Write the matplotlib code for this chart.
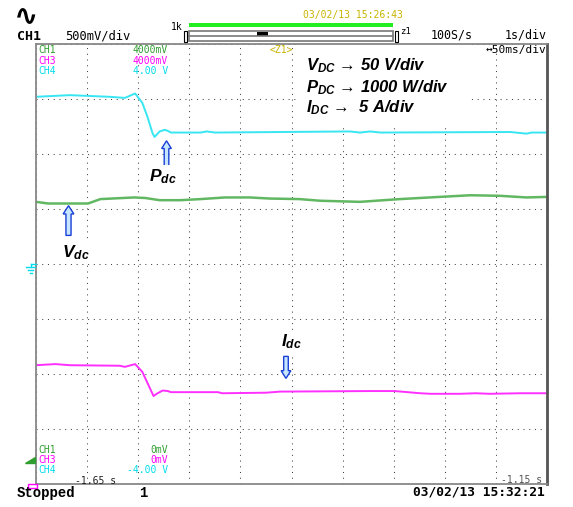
import numpy as np
import matplotlib
matplotlib.use("Agg")
import matplotlib.pyplot as plt
from matplotlib.patches import FancyArrow, Rectangle, Polygon
from matplotlib.lines import Line2D

plt.rcParams['mathtext.fontset'] = 'custom'
plt.rcParams['mathtext.it'] = 'Liberation Sans:italic:bold'
plt.rcParams['mathtext.rm'] = 'Liberation Sans:italic:bold'
plt.rcParams['mathtext.bf'] = 'Liberation Sans:italic:bold'

# screen: 10 div x 50 ms, 8 div vertical
t_p = [0, 33, 72, 87, 97, 104, 109, 114, 116, 121, 126, 129, 132, 161, 167, 175,
       307, 317, 327, 337, 464, 480, 485, 500]
p_dc = [7.04, 7.07, 7.04, 7.02, 7.10, 6.93, 6.68, 6.38, 6.31, 6.41, 6.44, 6.42, 6.39,
        6.39, 6.41, 6.39, 6.41, 6.39, 6.41, 6.39, 6.40, 6.37, 6.39, 6.39]

t_v = [0, 12, 51, 63, 96, 107, 121, 141, 161, 185, 209, 229, 258, 278, 317, 356,
       395, 425, 454, 480, 500]
v_dc = [5.13, 5.10, 5.10, 5.18, 5.21, 5.20, 5.16, 5.16, 5.18, 5.21, 5.21, 5.19, 5.18,
        5.15, 5.13, 5.18, 5.22, 5.25, 5.24, 5.21, 5.22]

t_i = [0, 19, 33, 82, 87, 97, 104, 110, 115, 119, 124, 129, 132, 178, 182, 225, 239,
       327, 351, 376, 386, 415, 430, 444, 474, 500]
i_dc = [2.16, 2.18, 2.16, 2.15, 2.13, 2.18, 2.04, 1.80, 1.60, 1.65, 1.70, 1.69, 1.67,
        1.67, 1.65, 1.66, 1.68, 1.69, 1.69, 1.65, 1.64, 1.64, 1.65, 1.64, 1.65, 1.65]

W, H = 573, 507
fig = plt.figure(figsize=(W / 100, H / 100), dpi=100)
ax = fig.add_axes([36 / W, (H - 484) / H, 511 / W, 440 / H])


def fx(px):
    return px / W


def fy(py):
    return 1 - py / H


mono = 'DejaVu Sans Mono'

ax.set_xlim(0, 500)
ax.set_ylim(0, 8)
ax.set_xticks(np.arange(0, 501, 50))
ax.set_yticks(np.arange(0, 9, 1))
ax.tick_params(length=0, labelbottom=False, labelleft=False)
ax.grid(True, color='#444444', linestyle=(0, (1, 4.5)), linewidth=0.75)
ax.set_axisbelow(True)
for s in ['left', 'top', 'bottom']:
    ax.spines[s].set_color('#888888')
    ax.spines[s].set_linewidth(1.3)
ax.spines['right'].set_color('#555555')
ax.spines['right'].set_linewidth(2)

# white area behind the scale notes
ax.add_patch(Rectangle((254, 6.55), 172, 1.45, facecolor='white', edgecolor='none', zorder=1))

ax.plot(t_p, p_dc, color='#38e6f2', lw=1.4, zorder=2)
ax.plot(t_v, v_dc, color='#62b862', lw=1.8, zorder=2)
ax.plot(t_i, i_dc, color='#ff30ff', lw=1.4, zorder=2)

# scale notes
note_kw = dict(fontfamily='Liberation Sans', fontweight='bold', style='italic',
               fontsize=12, color='black', zorder=4)
ax.text(264, 7.53, r'$V_{DC}$ → 50 V/div', **note_kw)
ax.text(264, 7.13, r'$P_{DC}$ → 1000 W/div', **note_kw)
ax.text(264, 6.75, r'$I_{DC}$ →  5 A/div', **note_kw)

# arrows and trace labels
arr_kw = dict(length_includes_head=True, facecolor='#c6e6ff', edgecolor='#1a3fd6',
              linewidth=1.0, zorder=4)
ax.add_patch(FancyArrow(127.7, 5.78, 0, 0.46, width=4.5, head_width=9.5, head_length=0.14, **arr_kw))
ax.add_patch(FancyArrow(31.8, 4.52, 0, 0.54, width=5.0, head_width=10.5, head_length=0.15, **arr_kw))
ax.add_patch(FancyArrow(244.6, 2.32, 0, -0.40, width=4.5, head_width=9.5, head_length=0.14, **arr_kw))

lab_kw = dict(fontfamily='Liberation Sans', fontweight='bold', style='italic',
              fontsize=12.5, color='black', zorder=4,
              bbox=dict(facecolor='white', edgecolor='none', pad=1.5))
ax.text(111, 5.50, r'$P_{dc}$', **lab_kw)
ax.text(25.5, 4.12, r'$V_{dc}$', **lab_kw)
ax.text(240, 2.51, r'$I_{dc}$', **lab_kw)

# channel readouts inside the screen
ch_cols = ['#2e9e2e', '#ff00ff', '#00dcec']
top_vals = ['4000mV', '4000mV', '4.00 V']
bot_vals = ['0mV', '0mV', '-4.00 V']
names = ['CH1', 'CH3', 'CH4']
for k in range(3):
    fig.text(fx(38), fy(50 + 10.5 * k), names[k], color=ch_cols[k], fontfamily=mono,
             fontsize=7, va='center')
    fig.text(fx(168), fy(50 + 10.5 * k), top_vals[k], color=ch_cols[k], fontfamily=mono,
             fontsize=7, va='center', ha='right')
    fig.text(fx(38), fy(450 + 10 * k), names[k], color=ch_cols[k], fontfamily=mono,
             fontsize=7, va='center')
    fig.text(fx(168), fy(450 + 10 * k), bot_vals[k], color=ch_cols[k], fontfamily=mono,
             fontsize=7, va='center', ha='right')

fig.text(fx(75), fy(481), '-1.65 s', fontfamily=mono, fontsize=7, va='center', color='#222222')
fig.text(fx(542), fy(480), '-1.15 s', fontfamily=mono, fontsize=7, va='center', ha='right', color='#555555')
fig.text(fx(270), fy(50), '<Z1>', fontfamily=mono, fontsize=7, va='center', color='#c8b400')
fig.text(fx(546), fy(50), '↔50ms/div', fontfamily=mono, fontsize=8, va='center', ha='right')

# header
fig.text(fx(14), fy(17), '∿', fontfamily='DejaVu Sans', fontsize=21, fontweight='bold', va='center')
fig.text(fx(17), fy(36), 'CH1', fontfamily=mono, fontsize=9.5, fontweight='bold', va='center')
fig.text(fx(65), fy(36), '500mV/div', fontfamily=mono, fontsize=8.7, va='center')
fig.text(fx(303), fy(15), '03/02/13 15:26:43', fontfamily=mono, fontsize=7, va='center', color='#c8b400')
fig.text(fx(171), fy(27), '1k', fontfamily=mono, fontsize=7, va='center')
fig.text(fx(400), fy(31), 'z1', fontfamily=mono, fontsize=6.5, va='center')
fig.text(fx(473), fy(35), '100S/s', fontfamily=mono, fontsize=8.4, va='center', ha='right')
fig.text(fx(547), fy(35), '1s/div', fontfamily=mono, fontsize=8.4, va='center', ha='right')

fig.add_artist(Rectangle((fx(189), fy(27)), fx(393) - fx(189), fy(23) - fy(27),
                         facecolor='#22ee22', edgecolor='none', transform=fig.transFigure))
fig.add_artist(Rectangle((fx(189), fy(41)), fx(393) - fx(189), fy(31) - fy(41),
                         facecolor='white', edgecolor='#777777', linewidth=1.2, transform=fig.transFigure))
fig.add_artist(Line2D([fx(189), fx(393)], [fy(36), fy(36)], color='#777777', lw=1.2,
                      transform=fig.transFigure))
fig.add_artist(Rectangle((fx(257), fy(35.5)), fx(268) - fx(257), fy(32) - fy(35.5),
                         facecolor='black', edgecolor='none', transform=fig.transFigure))
for xa, xb in [(184, 187), (395, 398)]:
    fig.add_artist(Rectangle((fx(xa), fy(42)), fx(xb) - fx(xa), fy(31) - fy(42),
                             facecolor='white', edgecolor='black', linewidth=0.8, transform=fig.transFigure))

# ground symbol and trigger marker
for y0, xa, xb in [(267, 26, 35), (270, 28, 33), (273, 29.5, 31.5)]:
    fig.add_artist(Line2D([fx(xa), fx(xb)], [fy(y0), fy(y0)], color='#00dcec', lw=1,
                          transform=fig.transFigure))
fig.add_artist(Line2D([fx(30.5), fx(30.5)], [fy(264), fy(267)], color='#00dcec', lw=1,
                      transform=fig.transFigure))
fig.add_artist(Line2D([fx(30.5), fx(36)], [fy(264), fy(264)], color='#00dcec', lw=1,
                      transform=fig.transFigure))
fig.add_artist(Polygon([(fx(25), fy(463)), (fx(35), fy(463)), (fx(35), fy(457))], closed=True,
                       facecolor='#2e9e2e', edgecolor='#2e9e2e', transform=fig.transFigure))
fig.add_artist(Rectangle((fx(28), fy(488)), fx(37) - fx(28), fy(484) - fy(488),
                         facecolor='none', edgecolor='#ff00ff', linewidth=1, transform=fig.transFigure))

# footer
fig.text(fx(17), fy(493), 'Stopped', fontfamily='Liberation Mono', fontsize=10, fontweight='bold', va='center')
fig.text(fx(139), fy(493), '1', fontfamily='Liberation Mono', fontsize=10, fontweight='bold', va='center')
fig.text(fx(545), fy(492), '03/02/13 15:32:21', fontfamily=mono, fontsize=9.3, fontweight='bold',
         va='center', ha='right')

fig.savefig('out.png', dpi=100)
